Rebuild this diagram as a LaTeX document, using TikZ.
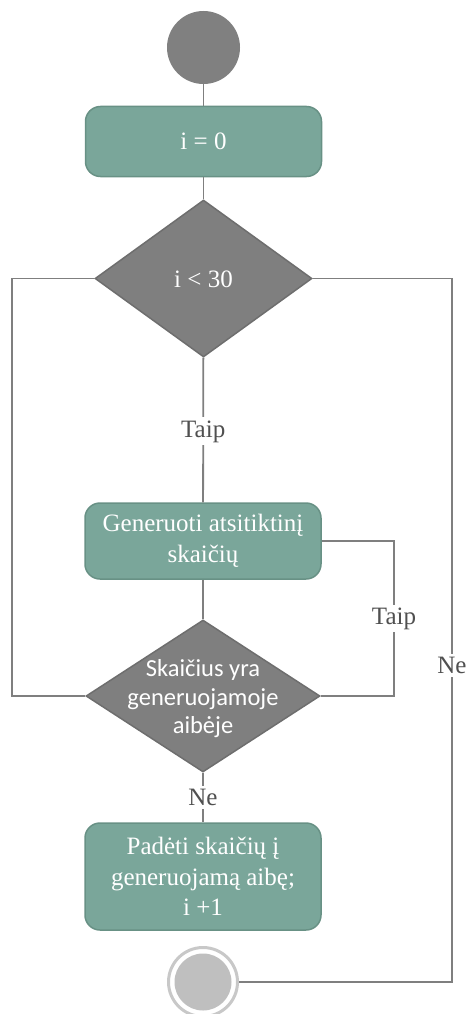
\documentclass[tikz,border=0pt]{standalone}
\usepackage{fontspec}
\setmainfont{Liberation Serif}
\newfontfamily\sansf{Carlito}
\usetikzlibrary{shapes.geometric}
\definecolor{boxfill}{RGB}{122,166,154}
\definecolor{boxline}{RGB}{104,145,133}
\definecolor{diafill}{RGB}{127,127,127}
\definecolor{dialine}{RGB}{110,110,110}
\definecolor{linecol}{RGB}{127,127,127}
\definecolor{lblcol}{RGB}{80,80,80}
\definecolor{startcol}{RGB}{128,128,128}
\definecolor{endring}{RGB}{200,200,200}
\definecolor{endfill}{RGB}{191,191,191}
\begin{document}
\begin{tikzpicture}[x=1pt,y=-1pt,
  box/.style={draw=boxline, fill=boxfill, line width=1.5pt, rounded corners=15pt,
    minimum width=236pt, inner sep=0pt, text=white, align=center,
    font=\fontsize{25}{30.5}\selectfont},
  dia/.style={diamond, draw=dialine, fill=diafill, line width=1.5pt, inner sep=0pt},
  diatext/.style={text=white, align=center, inner sep=0pt},
  conn/.style={draw=linecol, line width=1.8pt},
  lbl/.style={fill=white, text=lblcol, inner sep=3pt, font=\fontsize{25}{29}\selectfont}]
\useasboundingbox (0,0) rectangle (468,1014);
% nodes
\node[circle, fill=startcol, minimum size=73pt, inner sep=0pt] (start) at (203.5,47.5) {};
\node[box, minimum height=70pt] (init) at (203.5,141.5) {i = 0};
\node[dia, minimum width=217pt, minimum height=157pt] (d1) at (203.5,278.5) {};
\node[diatext, font=\fontsize{25}{29}\selectfont] (d1t) at (203.5,279) {i < 30};
\node[box, minimum height=76pt] (gen) at (203,541) {Generuoti atsitiktinį\\skaičių};
\node[dia, minimum width=234pt, minimum height=152pt] (d2) at (203,696) {};
\node[diatext, font=\sansf\fontsize{24.5}{28.5}\selectfont] (d2t) at (203,699) {Skaičius yra\\generuojamoje\\aibėje};
\node[box, minimum height=107pt] (put) at (203,876.5) {Padėti skaičių į\\generuojamą aibę;\\i +1};
\node[circle, draw=endring, line width=3pt, fill=white, minimum size=69pt, inner sep=0pt] (end) at (203,982) {};
\node[circle, fill=endfill, minimum size=57pt, inner sep=0pt] (endin) at (203,982) {};
% helper coordinates
\coordinate (lft) at (12,696);
\coordinate (r1) at (394,541);
\coordinate (r2) at (394,696);
\coordinate (q1) at (452,278.5);
\coordinate (q2) at (452,982);
% connectors
\draw[conn] (start) -- (init);
\draw[conn] (init) -- (d1);
\draw[conn] (d1) -- node[lbl, pos=0.51] {Taip} (gen);
\draw[conn] (gen) -- (d2);
\draw[conn] (d2) -- node[lbl, midway] {Ne} (put);
\draw[conn] (d2.west) -- (lft) |- (d1.west);
\draw[conn] (gen.east) -- (r1) -- node[lbl, midway] {Taip} (r2) -- (d2.east);
\draw[conn] (d1.east) -- (q1) -- node[lbl, pos=0.55] {Ne} (q2) -- (end.east);
\end{tikzpicture}
\end{document}
